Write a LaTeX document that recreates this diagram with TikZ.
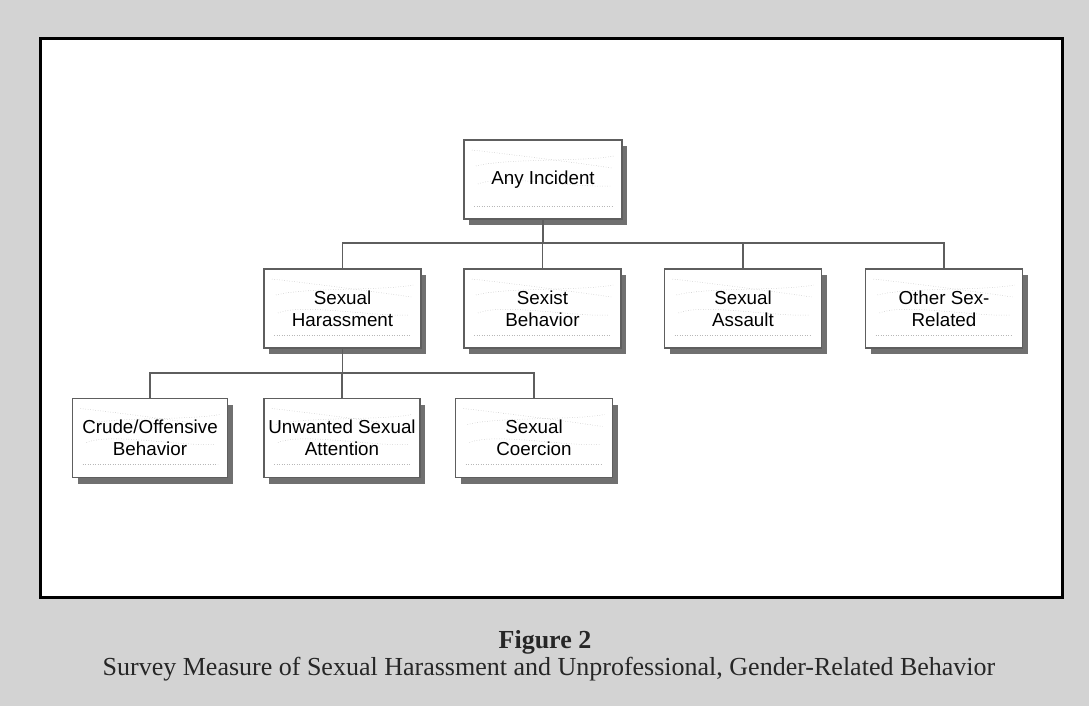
\documentclass[tikz,border=0pt]{standalone}
\usepackage{fontspec}
\setmainfont{Liberation Serif}
\newfontfamily\boxfont{Liberation Sans}
\usetikzlibrary{shadows}
\definecolor{bgcol}{HTML}{D3D3D3}
\definecolor{edgecol}{HTML}{5E5E5E}
\definecolor{shadcol}{HTML}{707070}
\definecolor{texcol}{HTML}{B8B8B8}
\tikzset{
  texture/.style={dotted, texcol, line width=0.5pt},
  orgbox/.style={rectangle, draw=edgecol, line width=1.3pt, fill=white,
    minimum width=157pt, minimum height=79pt, inner sep=2pt, align=center,
    font=\boxfont\fontsize{18.8}{22}\selectfont,
    drop shadow={shadow xshift=5pt, shadow yshift=-6pt, fill=shadcol, opacity=1},
    path picture={
      \draw[texture] ([xshift=10pt,yshift=13pt]path picture bounding box.south west) -- ([xshift=-10pt,yshift=13pt]path picture bounding box.south east);
      \draw[texture] ([xshift=8pt,yshift=-10pt]path picture bounding box.north west) .. controls +(35pt,-4pt) and +(-40pt,6pt) .. ([xshift=-10pt,yshift=-28pt]path picture bounding box.north east);
      \draw[texture] ([xshift=12pt,yshift=-26pt]path picture bounding box.north west) .. controls +(30pt,8pt) and +(-30pt,-6pt) .. ([xshift=-8pt,yshift=-16pt]path picture bounding box.north east);
      \draw[texture] ([xshift=14pt,yshift=-44pt]path picture bounding box.north west) .. controls +(25pt,10pt) and +(-35pt,-2pt) .. ([xshift=-12pt,yshift=-46pt]path picture bounding box.north east);
    }},
  conn/.style={draw=edgecol, line width=1.3pt},
  captitle/.style={font=\bfseries\fontsize{26}{30}\selectfont, text=black!85, inner sep=0pt, anchor=base},
  capsub/.style={font=\fontsize{26}{30}\selectfont, text=black!85, inner sep=0pt, anchor=base}
}
\begin{document}
\begin{tikzpicture}[x=1pt, y=-1pt]
\useasboundingbox (0,0) rectangle (1089,706);
\fill[bgcol] (0,0) rectangle (1089,706);
\draw[line width=3pt, fill=white] (40,39) rectangle (1062,597);

\node[orgbox, minimum width=158pt] (ai) at (543,179.5) {Any Incident};
\node[orgbox] (sh) at (342.5,308.5) {Sexual\\Harassment};
\node[orgbox] (sb) at (542.5,308.5) {Sexist\\Behavior};
\node[orgbox] (sa) at (743,308.5) {Sexual\\Assault};
\node[orgbox] (osr) at (944,308.5) {Other Sex-\\Related};
\node[orgbox, minimum width=155pt] (cob) at (150,438) {Crude/Offensive\\Behavior};
\node[orgbox, minimum width=156pt] (usa) at (342,438) {Unwanted Sexual\\Attention};
\node[orgbox] (sc) at (534,438) {Sexual\\Coercion};

\coordinate (bus1) at (543,243);
\coordinate (bus2) at (342,373);

\draw[conn] (ai.south) -- (ai.south |- bus1);
\draw[conn] (sh.north) |- (osr.north |- bus1) -- (osr.north);
\draw[conn] (sb.north) -- (sb.north |- bus1);
\draw[conn] (sa.north) -- (sa.north |- bus1);

\draw[conn] (sh.south) -- (sh.south |- bus2);
\draw[conn] (cob.north) |- (sc.north |- bus2) -- (sc.north);
\draw[conn] (usa.north) -- (usa.north |- bus2);

\node[captitle] (title) at (545,648) {Figure 2};
\node[capsub] (sub) at (549,675) {Survey Measure of Sexual Harassment and Unprofessional, Gender-Related Behavior};
\end{tikzpicture}
\end{document}
